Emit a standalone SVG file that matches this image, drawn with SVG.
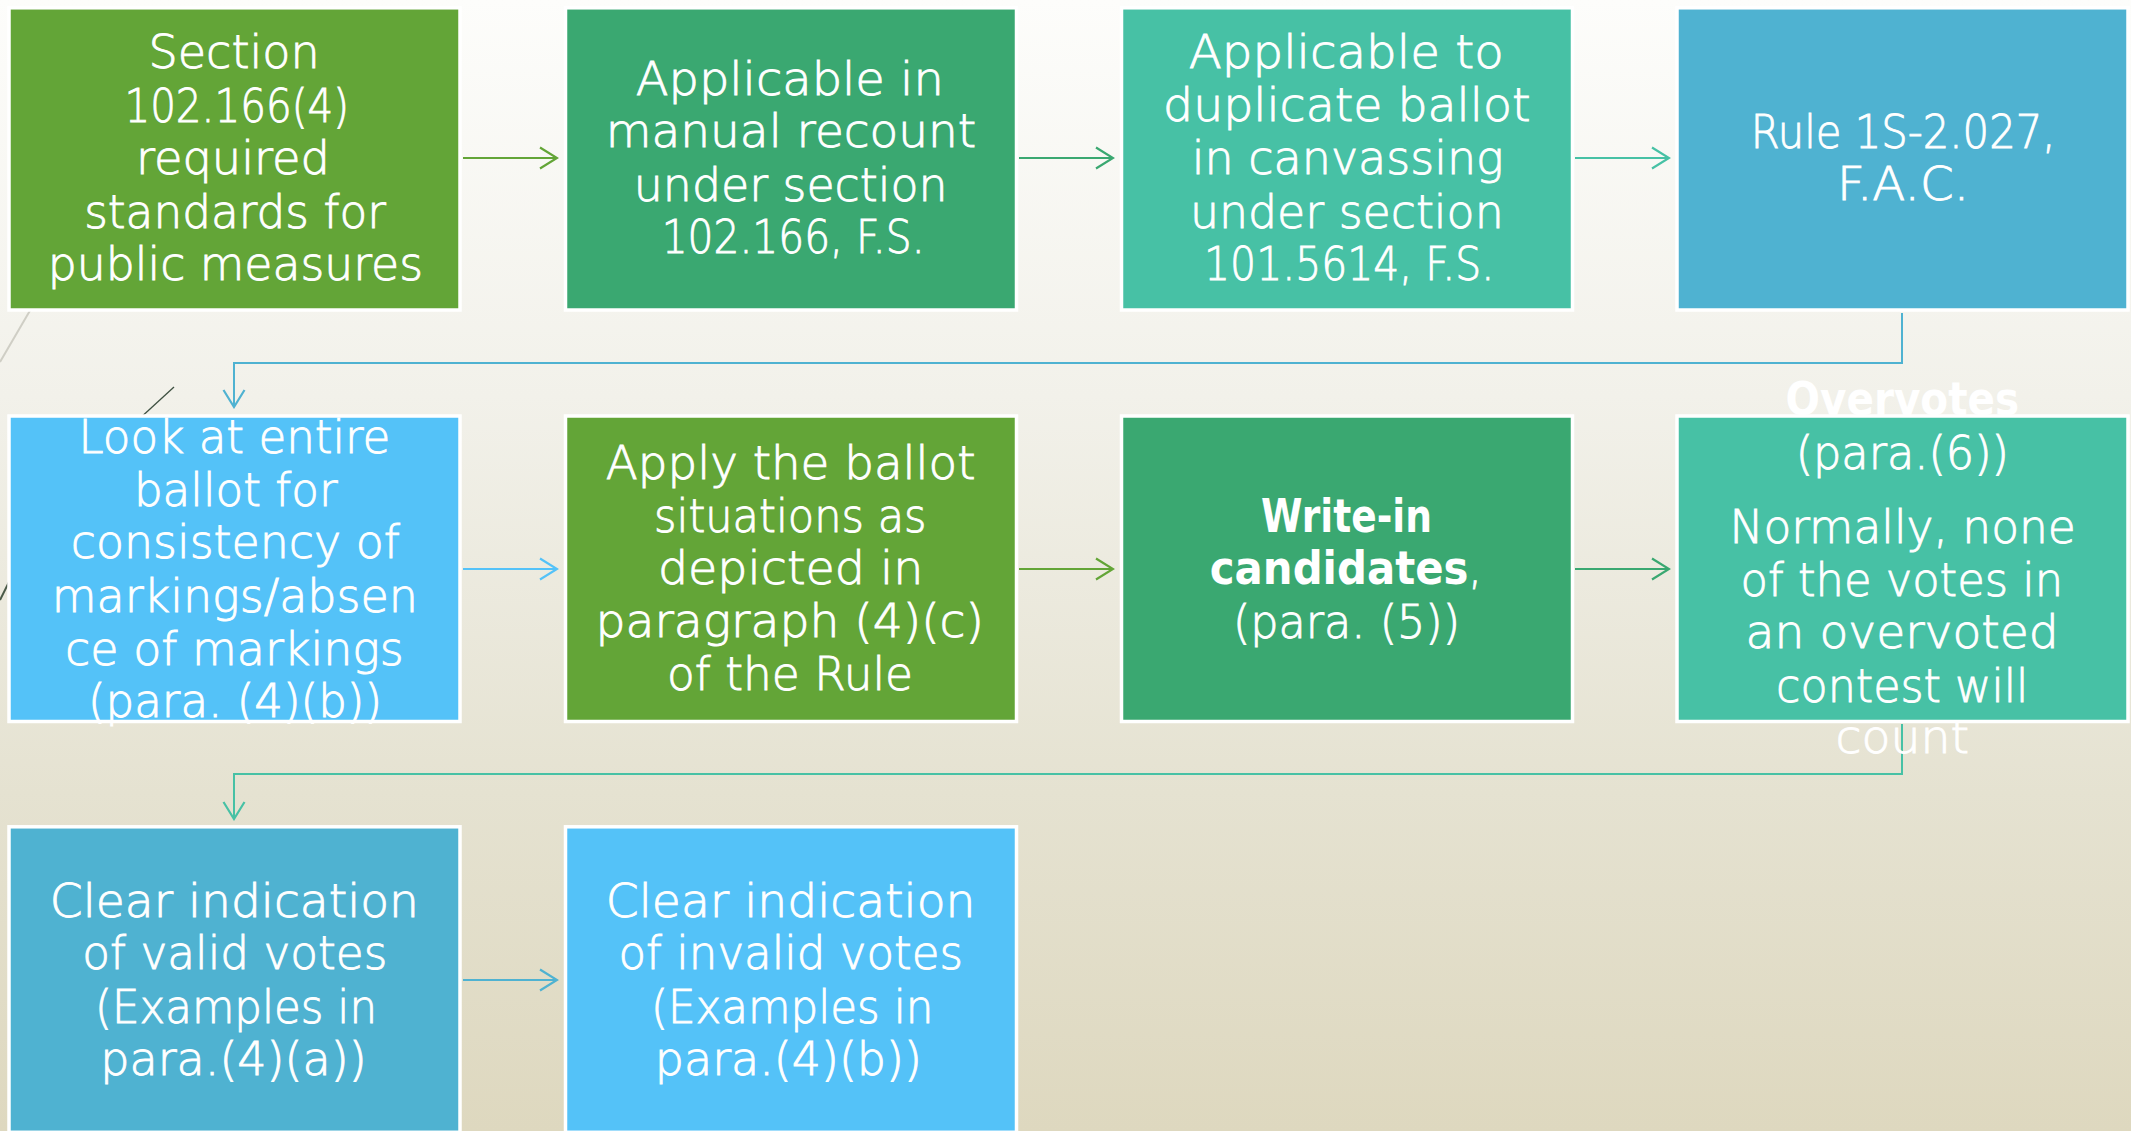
<svg xmlns="http://www.w3.org/2000/svg" width="2131" height="1131" viewBox="0 0 2131 1131">
  <defs>
    <linearGradient id="bg" x1="0" y1="0" x2="0" y2="1">
      <stop offset="0" stop-color="#fdfdfb"/>
      <stop offset="0.35" stop-color="#f2f1ea"/>
      <stop offset="0.7" stop-color="#e5e2d1"/>
      <stop offset="1" stop-color="#ded8bf"/>
    </linearGradient>
    <marker id="ah-green" viewBox="0 0 20 24" refX="18" refY="12" markerWidth="20" markerHeight="24" markerUnits="userSpaceOnUse" orient="auto">
      <path d="M1,1.5 L18,12 L1,22.5" fill="none" stroke="#63a537" stroke-width="2.2"/>
    </marker>
    <marker id="ah-dkgreen" viewBox="0 0 20 24" refX="18" refY="12" markerWidth="20" markerHeight="24" markerUnits="userSpaceOnUse" orient="auto">
      <path d="M1,1.5 L18,12 L1,22.5" fill="none" stroke="#3aa871" stroke-width="2.2"/>
    </marker>
    <marker id="ah-teal" viewBox="0 0 20 24" refX="18" refY="12" markerWidth="20" markerHeight="24" markerUnits="userSpaceOnUse" orient="auto">
      <path d="M1,1.5 L18,12 L1,22.5" fill="none" stroke="#47c1a5" stroke-width="2.2"/>
    </marker>
    <marker id="ah-blue" viewBox="0 0 20 24" refX="18" refY="12" markerWidth="20" markerHeight="24" markerUnits="userSpaceOnUse" orient="auto">
      <path d="M1,1.5 L18,12 L1,22.5" fill="none" stroke="#4fb2d1" stroke-width="2.2"/>
    </marker>
    <marker id="ah-sky" viewBox="0 0 20 24" refX="18" refY="12" markerWidth="20" markerHeight="24" markerUnits="userSpaceOnUse" orient="auto">
      <path d="M1,1.5 L18,12 L1,22.5" fill="none" stroke="#54c2f8" stroke-width="2.2"/>
    </marker>
  </defs>
  <style>
    .box { stroke: #ffffff; stroke-width: 3.5; }
    .c-green { fill: #63a537; }
    .c-dkgreen { fill: #3aa871; }
    .c-teal { fill: #47c1a5; }
    .c-blue { fill: #4fb2d1; }
    .c-sky { fill: #54c2f8; }
    text { font-family: "DejaVu Sans", "Liberation Sans", sans-serif; font-size: 47px; font-weight: 200; fill: #ffffff; stroke: #ffffff; stroke-width: 0.9; }
    .b { font-weight: 700; stroke: none; }
    .conn { fill: none; stroke-width: 2; }
  </style>

  <!-- page background -->
  <rect x="0" y="0" width="2131" height="1131" fill="url(#bg)"/>

  <!-- thin theme strokes along the left edge -->
  <g id="wisps" fill="none">
    <line x1="42" y1="290" x2="0" y2="362" stroke="#cfcec5" stroke-width="2"/>
    <line x1="174" y1="387" x2="138" y2="420" stroke="#3f5142" stroke-width="1.3"/>
    <line x1="12" y1="576" x2="0" y2="600" stroke="#4a5a48" stroke-width="2"/>
  </g>

  <!-- connectors -->
  <g id="connectors">
    <line class="conn" x1="463" y1="158" x2="557" y2="158" stroke="#63a537" marker-end="url(#ah-green)"/>
    <line class="conn" x1="1019" y1="158" x2="1113" y2="158" stroke="#3aa871" marker-end="url(#ah-dkgreen)"/>
    <line class="conn" x1="1575" y1="158" x2="1669" y2="158" stroke="#47c1a5" marker-end="url(#ah-teal)"/>
    <polyline class="conn" points="1902,313 1902,363 234,363 234,407" stroke="#4fb2d1" marker-end="url(#ah-blue)"/>
    <line class="conn" x1="463" y1="569" x2="557" y2="569" stroke="#54c2f8" marker-end="url(#ah-sky)"/>
    <line class="conn" x1="1019" y1="569" x2="1113" y2="569" stroke="#63a537" marker-end="url(#ah-green)"/>
    <line class="conn" x1="1575" y1="569" x2="1669" y2="569" stroke="#3aa871" marker-end="url(#ah-dkgreen)"/>
    <polyline class="conn" points="1902,724 1902,774 234,774 234,819" stroke="#47c1a5" marker-end="url(#ah-teal)"/>
    <line class="conn" x1="463" y1="980" x2="557" y2="980" stroke="#4fb2d1" marker-end="url(#ah-blue)"/>
  </g>

  <!-- row 1 -->
  <g id="n-section">
    <rect class="box c-green" x="9" y="7.8" width="451" height="302.2"/>
    <text x="148.5" y="68.3" textLength="171.1" lengthAdjust="spacingAndGlyphs">Section</text>
    <text x="124.4" y="121.7" textLength="224.6" lengthAdjust="spacingAndGlyphs">102.166(4)</text>
    <text x="135.9" y="174" textLength="194.1" lengthAdjust="spacingAndGlyphs">required</text>
    <text x="84.2" y="227.7" textLength="301.6" lengthAdjust="spacingAndGlyphs">standards for</text>
    <text x="47.8" y="280" textLength="375.2" lengthAdjust="spacingAndGlyphs">public measures</text>
  </g>
  <g id="n-recount">
    <rect class="box c-dkgreen" x="565.5" y="7.8" width="451" height="302.2"/>
    <text x="635.7" y="95" textLength="308.1" lengthAdjust="spacingAndGlyphs">Applicable in</text>
    <text x="605.8" y="146.7" textLength="370.5" lengthAdjust="spacingAndGlyphs">manual recount</text>
    <text x="633.8" y="201" textLength="313.8" lengthAdjust="spacingAndGlyphs">under section</text>
    <text x="661.7" y="253" textLength="262.9" lengthAdjust="spacingAndGlyphs">102.166, F.S.</text>
  </g>
  <g id="n-duplicate">
    <rect class="box c-teal" x="1121.5" y="7.8" width="451" height="302.2"/>
    <text x="1188.8" y="68.3" textLength="314.9" lengthAdjust="spacingAndGlyphs">Applicable to</text>
    <text x="1163.1" y="120.7" textLength="367.4" lengthAdjust="spacingAndGlyphs">duplicate ballot</text>
    <text x="1191.8" y="174" textLength="311.9" lengthAdjust="spacingAndGlyphs">in canvassing</text>
    <text x="1189.9" y="227.7" textLength="313.8" lengthAdjust="spacingAndGlyphs">under section</text>
    <text x="1204.1" y="280" textLength="290.1" lengthAdjust="spacingAndGlyphs">101.5614, F.S.</text>
  </g>
  <g id="n-rule">
    <rect class="box c-blue" x="1677" y="7.8" width="451" height="302.2"/>
    <text x="1750.7" y="148.3" textLength="304.8" lengthAdjust="spacingAndGlyphs">Rule 1S-2.027,</text>
    <text x="1837" y="200" textLength="132" lengthAdjust="spacingAndGlyphs">F.A.C.</text>
  </g>

  <!-- row 2 -->
  <g id="n-entire-ballot">
    <rect class="box c-sky" x="9" y="416" width="451" height="305.5"/>
    <text x="78.5" y="452.7" textLength="311.9" lengthAdjust="spacingAndGlyphs">Look at entire</text>
    <text x="133.9" y="506" textLength="203.6" lengthAdjust="spacingAndGlyphs">ballot for</text>
    <text x="70.8" y="558.3" textLength="329.1" lengthAdjust="spacingAndGlyphs">consistency of</text>
    <text x="51.7" y="611.7" textLength="366.2" lengthAdjust="spacingAndGlyphs">markings/absen</text>
    <text x="65.1" y="665" textLength="338.7" lengthAdjust="spacingAndGlyphs">ce of markings</text>
    <text x="88" y="717.3" textLength="294" lengthAdjust="spacingAndGlyphs">(para. (4)(b))</text>
  </g>
  <g id="n-situations">
    <rect class="box c-green" x="565.5" y="416" width="451" height="305.5"/>
    <text x="605.8" y="479" textLength="369.7" lengthAdjust="spacingAndGlyphs">Apply the ballot</text>
    <text x="654" y="531.7" textLength="272.5" lengthAdjust="spacingAndGlyphs">situations as</text>
    <text x="657.9" y="584" textLength="265.6" lengthAdjust="spacingAndGlyphs">depicted in</text>
    <text x="595.5" y="637.3" textLength="388.5" lengthAdjust="spacingAndGlyphs">paragraph (4)(c)</text>
    <text x="667" y="690" textLength="246" lengthAdjust="spacingAndGlyphs">of the Rule</text>
  </g>
  <g id="n-write-in">
    <rect class="box c-dkgreen" x="1121.5" y="416" width="451" height="305.5"/>
    <text class="b" x="1261" y="532.3" textLength="171" lengthAdjust="spacingAndGlyphs">Write-in</text>
    <text x="1209.8" y="584" textLength="272" lengthAdjust="spacingAndGlyphs"><tspan class="b">candidates</tspan>,</text>
    <text x="1233" y="637.7" textLength="227" lengthAdjust="spacingAndGlyphs">(para. (5))</text>
  </g>
  <g id="n-overvotes">
    <rect class="box c-teal" x="1677" y="416" width="451" height="305.5"/>
    <text class="b" x="1785.6" y="415" textLength="233.6" lengthAdjust="spacingAndGlyphs">Overvotes</text>
    <text x="1795.7" y="469.3" textLength="213.3" lengthAdjust="spacingAndGlyphs">(para.(6))</text>
    <text x="1729.4" y="543.3" textLength="346.4" lengthAdjust="spacingAndGlyphs">Normally, none</text>
    <text x="1740.5" y="596" textLength="322.7" lengthAdjust="spacingAndGlyphs">of the votes in</text>
    <text x="1745.6" y="648.3" textLength="313.2" lengthAdjust="spacingAndGlyphs">an overvoted</text>
    <text x="1776.1" y="702.3" textLength="252.3" lengthAdjust="spacingAndGlyphs">contest will</text>
    <text x="1835.4" y="753.3" textLength="133.8" lengthAdjust="spacingAndGlyphs">count</text>
  </g>

  <!-- row 3 -->
  <g id="n-valid">
    <rect class="box c-blue" x="9" y="826.8" width="451" height="305.5"/>
    <text x="49.8" y="916.7" textLength="369.2" lengthAdjust="spacingAndGlyphs">Clear indication</text>
    <text x="82.3" y="969.3" textLength="305" lengthAdjust="spacingAndGlyphs">of valid votes</text>
    <text x="95" y="1023.3" textLength="282" lengthAdjust="spacingAndGlyphs">(Examples in</text>
    <text x="100.3" y="1075" textLength="266.3" lengthAdjust="spacingAndGlyphs">para.(4)(a))</text>
  </g>
  <g id="n-invalid">
    <rect class="box c-sky" x="565.5" y="826.8" width="451" height="305.5"/>
    <text x="605.8" y="916.7" textLength="369.7" lengthAdjust="spacingAndGlyphs">Clear indication</text>
    <text x="618.5" y="969.3" textLength="344.4" lengthAdjust="spacingAndGlyphs">of invalid votes</text>
    <text x="651" y="1023.3" textLength="282.4" lengthAdjust="spacingAndGlyphs">(Examples in</text>
    <text x="654.8" y="1075" textLength="267.1" lengthAdjust="spacingAndGlyphs">para.(4)(b))</text>
  </g>
</svg>
